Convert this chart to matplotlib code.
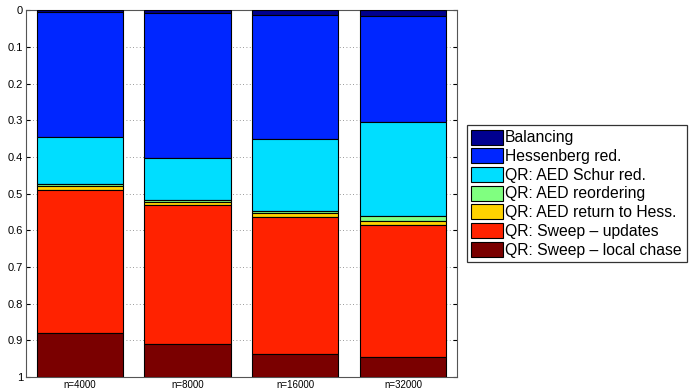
import matplotlib.pyplot as plt
import numpy as np

sizes = ['n=4000', 'n=8000', 'n=16000', 'n=32000']
labels = ['Balancing', 'Hessenberg red.', 'QR: AED Schur red.', 'QR: AED reordering',
          'QR: AED return to Hess.', 'QR: Sweep \u2013 updates', 'QR: Sweep \u2013 local chase']
balancing = [0.005, 0.009, 0.013, 0.017]
hessenberg = [0.342, 0.395, 0.338, 0.287]
aed_schur = [0.128, 0.114, 0.196, 0.258]
aed_reorder = [0.004, 0.004, 0.005, 0.014]
aed_return = [0.010, 0.009, 0.013, 0.009]
sweep_updates = [0.390, 0.379, 0.372, 0.361]
sweep_chase = [0.121, 0.090, 0.063, 0.054]
colors = ['#00008f', '#0026ff', '#00deff', '#80ff80', '#ffd200', '#ff2200', '#7a0000']

parts = [balancing, hessenberg, aed_schur, aed_reorder, aed_return, sweep_updates, sweep_chase]

plt.rcParams['font.family'] = ['Liberation Sans', 'DejaVu Sans']

fig = plt.figure(figsize=(6.91, 3.91), dpi=100)
ax = fig.add_axes([0.0376, 0.036, 0.6235, 0.938])
x = np.arange(1, len(sizes) + 1)
bottom = np.zeros(len(sizes))
for vals, lab, c in zip(parts, labels, colors):
    ax.bar(x, vals, 0.8, bottom=bottom, color=c, edgecolor='black', linewidth=0.8,
           label=lab, zorder=3)
    bottom += np.array(vals)

ax.set_xlim(0.5, 4.5)
ax.set_ylim(1, 0)
ax.set_yticks(np.arange(0, 1.01, 0.1))
ax.set_yticklabels(['0'] + ['%.1f' % v for v in np.arange(0.1, 0.95, 0.1)] + ['1'])
ax.set_xticks(x)
ax.set_xticklabels(sizes)
ax.tick_params(axis='y', labelsize=8, direction='in', length=3, pad=2, right=True)
ax.tick_params(axis='x', labelsize=7, direction='in', length=3, pad=2, top=True)
ax.yaxis.grid(True, linestyle=(0, (1, 3)), color='#777777', linewidth=0.6, zorder=0)
for s in ax.spines.values():
    s.set_color('#555555')
    s.set_linewidth(0.8)

leg = ax.legend(loc='center left', bbox_to_anchor=(1.023, 0.5), fontsize=11.3,
                frameon=True, fancybox=False, edgecolor='black', handlelength=2.0,
                handleheight=1.1, handletextpad=0.15, labelspacing=0.18, borderpad=0.3,
                borderaxespad=0)
leg.get_frame().set_linewidth(0.9)

fig.savefig('out.png', dpi=100)
